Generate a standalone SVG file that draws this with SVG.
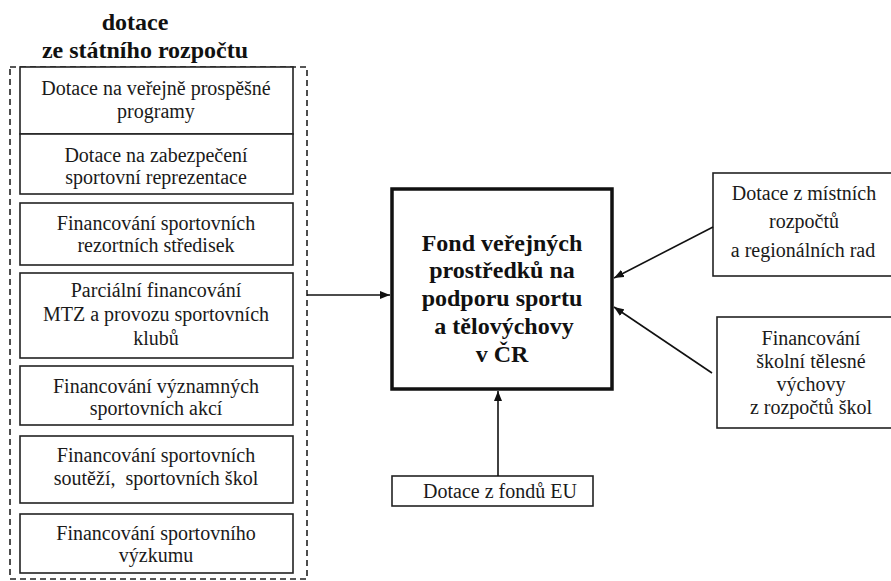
<svg xmlns="http://www.w3.org/2000/svg" width="891" height="581" viewBox="0 0 891 581">
<defs>
<marker id="arr" viewBox="0 0 10 8" refX="10" refY="4" markerWidth="10" markerHeight="8" markerUnits="userSpaceOnUse" orient="auto">
<path d="M0,0 L10,4 L0,8 Z" fill="#111"/>
</marker>
<style>
.box{fill:#fff;stroke:#222;stroke-width:1.6}
.main{fill:#fff;stroke:#111;stroke-width:3.5}
.dash{fill:none;stroke:#222;stroke-width:1.6;stroke-dasharray:6 4}
.t{font-family:'Liberation Serif','DejaVu Serif',serif;font-size:20px;fill:#1a1a1a;text-anchor:middle}
.tb{font-family:'Liberation Serif','DejaVu Serif',serif;font-size:24px;font-weight:bold;fill:#111;text-anchor:middle}
.c{fill:none;stroke:#111;stroke-width:1.6}
</style>
</defs>
<rect width="891" height="581" fill="#fff"/>

<g id="group-state">
<text class="tb" x="135" y="30">dotace</text>
<text class="tb" x="145" y="58">ze státního rozpočtu</text>
<rect class="dash" x="10" y="67" width="297" height="512"/>
</g>

<g id="n1"><rect class="box" x="20" y="67" width="273" height="67"/>
<text class="t" x="156" y="95">Dotace na veřejně prospěšné</text>
<text class="t" x="156" y="118">programy</text></g>

<g id="n2"><rect class="box" x="20" y="134" width="273" height="60"/>
<text class="t" x="156" y="162">Dotace na zabezpečení</text>
<text class="t" x="156" y="184">sportovní reprezentace</text></g>

<g id="n3"><rect class="box" x="20" y="203" width="273" height="62"/>
<text class="t" x="156" y="230">Financování sportovních</text>
<text class="t" x="156" y="252">rezortních středisek</text></g>

<g id="n4"><rect class="box" x="20" y="273" width="273" height="85"/>
<text class="t" x="156" y="297">Parciální financování</text>
<text class="t" x="156" y="321">MTZ a provozu sportovních</text>
<text class="t" x="156" y="345">klubů</text></g>

<g id="n5"><rect class="box" x="20" y="366" width="273" height="59"/>
<text class="t" x="156" y="393">Financování významných</text>
<text class="t" x="156" y="415">sportovních akcí</text></g>

<g id="n6"><rect class="box" x="20" y="436" width="273" height="67"/>
<text class="t" x="156" y="462">Financování sportovních</text>
<text class="t" x="156" y="485" xml:space="preserve">soutěží,  sportovních škol</text></g>

<g id="n7"><rect class="box" x="20" y="514" width="273" height="59"/>
<text class="t" x="156" y="540">Financování sportovního</text>
<text class="t" x="156" y="562">výzkumu</text></g>

<g id="fund"><rect class="main" x="392" y="189" width="220" height="200"/>
<text class="tb" x="502" y="251">Fond veřejných</text>
<text class="tb" x="502" y="278">prostředků na</text>
<text class="tb" x="502" y="306">podporu sportu</text>
<text class="tb" x="504" y="334">a tělovýchovy</text>
<text class="tb" x="502" y="362">v ČR</text></g>

<g id="local"><rect class="box" x="713" y="173" width="185" height="103"/>
<text class="t" x="804" y="200">Dotace z místních</text>
<text class="t" x="804" y="228">rozpočtů</text>
<text class="t" x="803" y="257">a regionálních rad</text></g>

<g id="school"><rect class="box" x="717" y="317" width="185" height="111"/>
<text class="t" x="811" y="345">Financování</text>
<text class="t" x="811" y="368">školní tělesné</text>
<text class="t" x="811" y="391">výchovy</text>
<text class="t" x="811" y="414">z rozpočtů škol</text></g>

<g id="eu"><rect class="box" x="392" y="476" width="201" height="30"/>
<text class="t" x="500" y="498">Dotace z fondů EU</text></g>

<g id="connectors">
<line class="c" x1="307" y1="295" x2="390" y2="295" marker-end="url(#arr)"/>
<line class="c" x1="498" y1="476" x2="498" y2="391" marker-end="url(#arr)"/>
<line class="c" x1="713" y1="227" x2="614" y2="278" marker-end="url(#arr)"/>
<line class="c" x1="712" y1="373" x2="614" y2="307" marker-end="url(#arr)"/>
</g>
</svg>
